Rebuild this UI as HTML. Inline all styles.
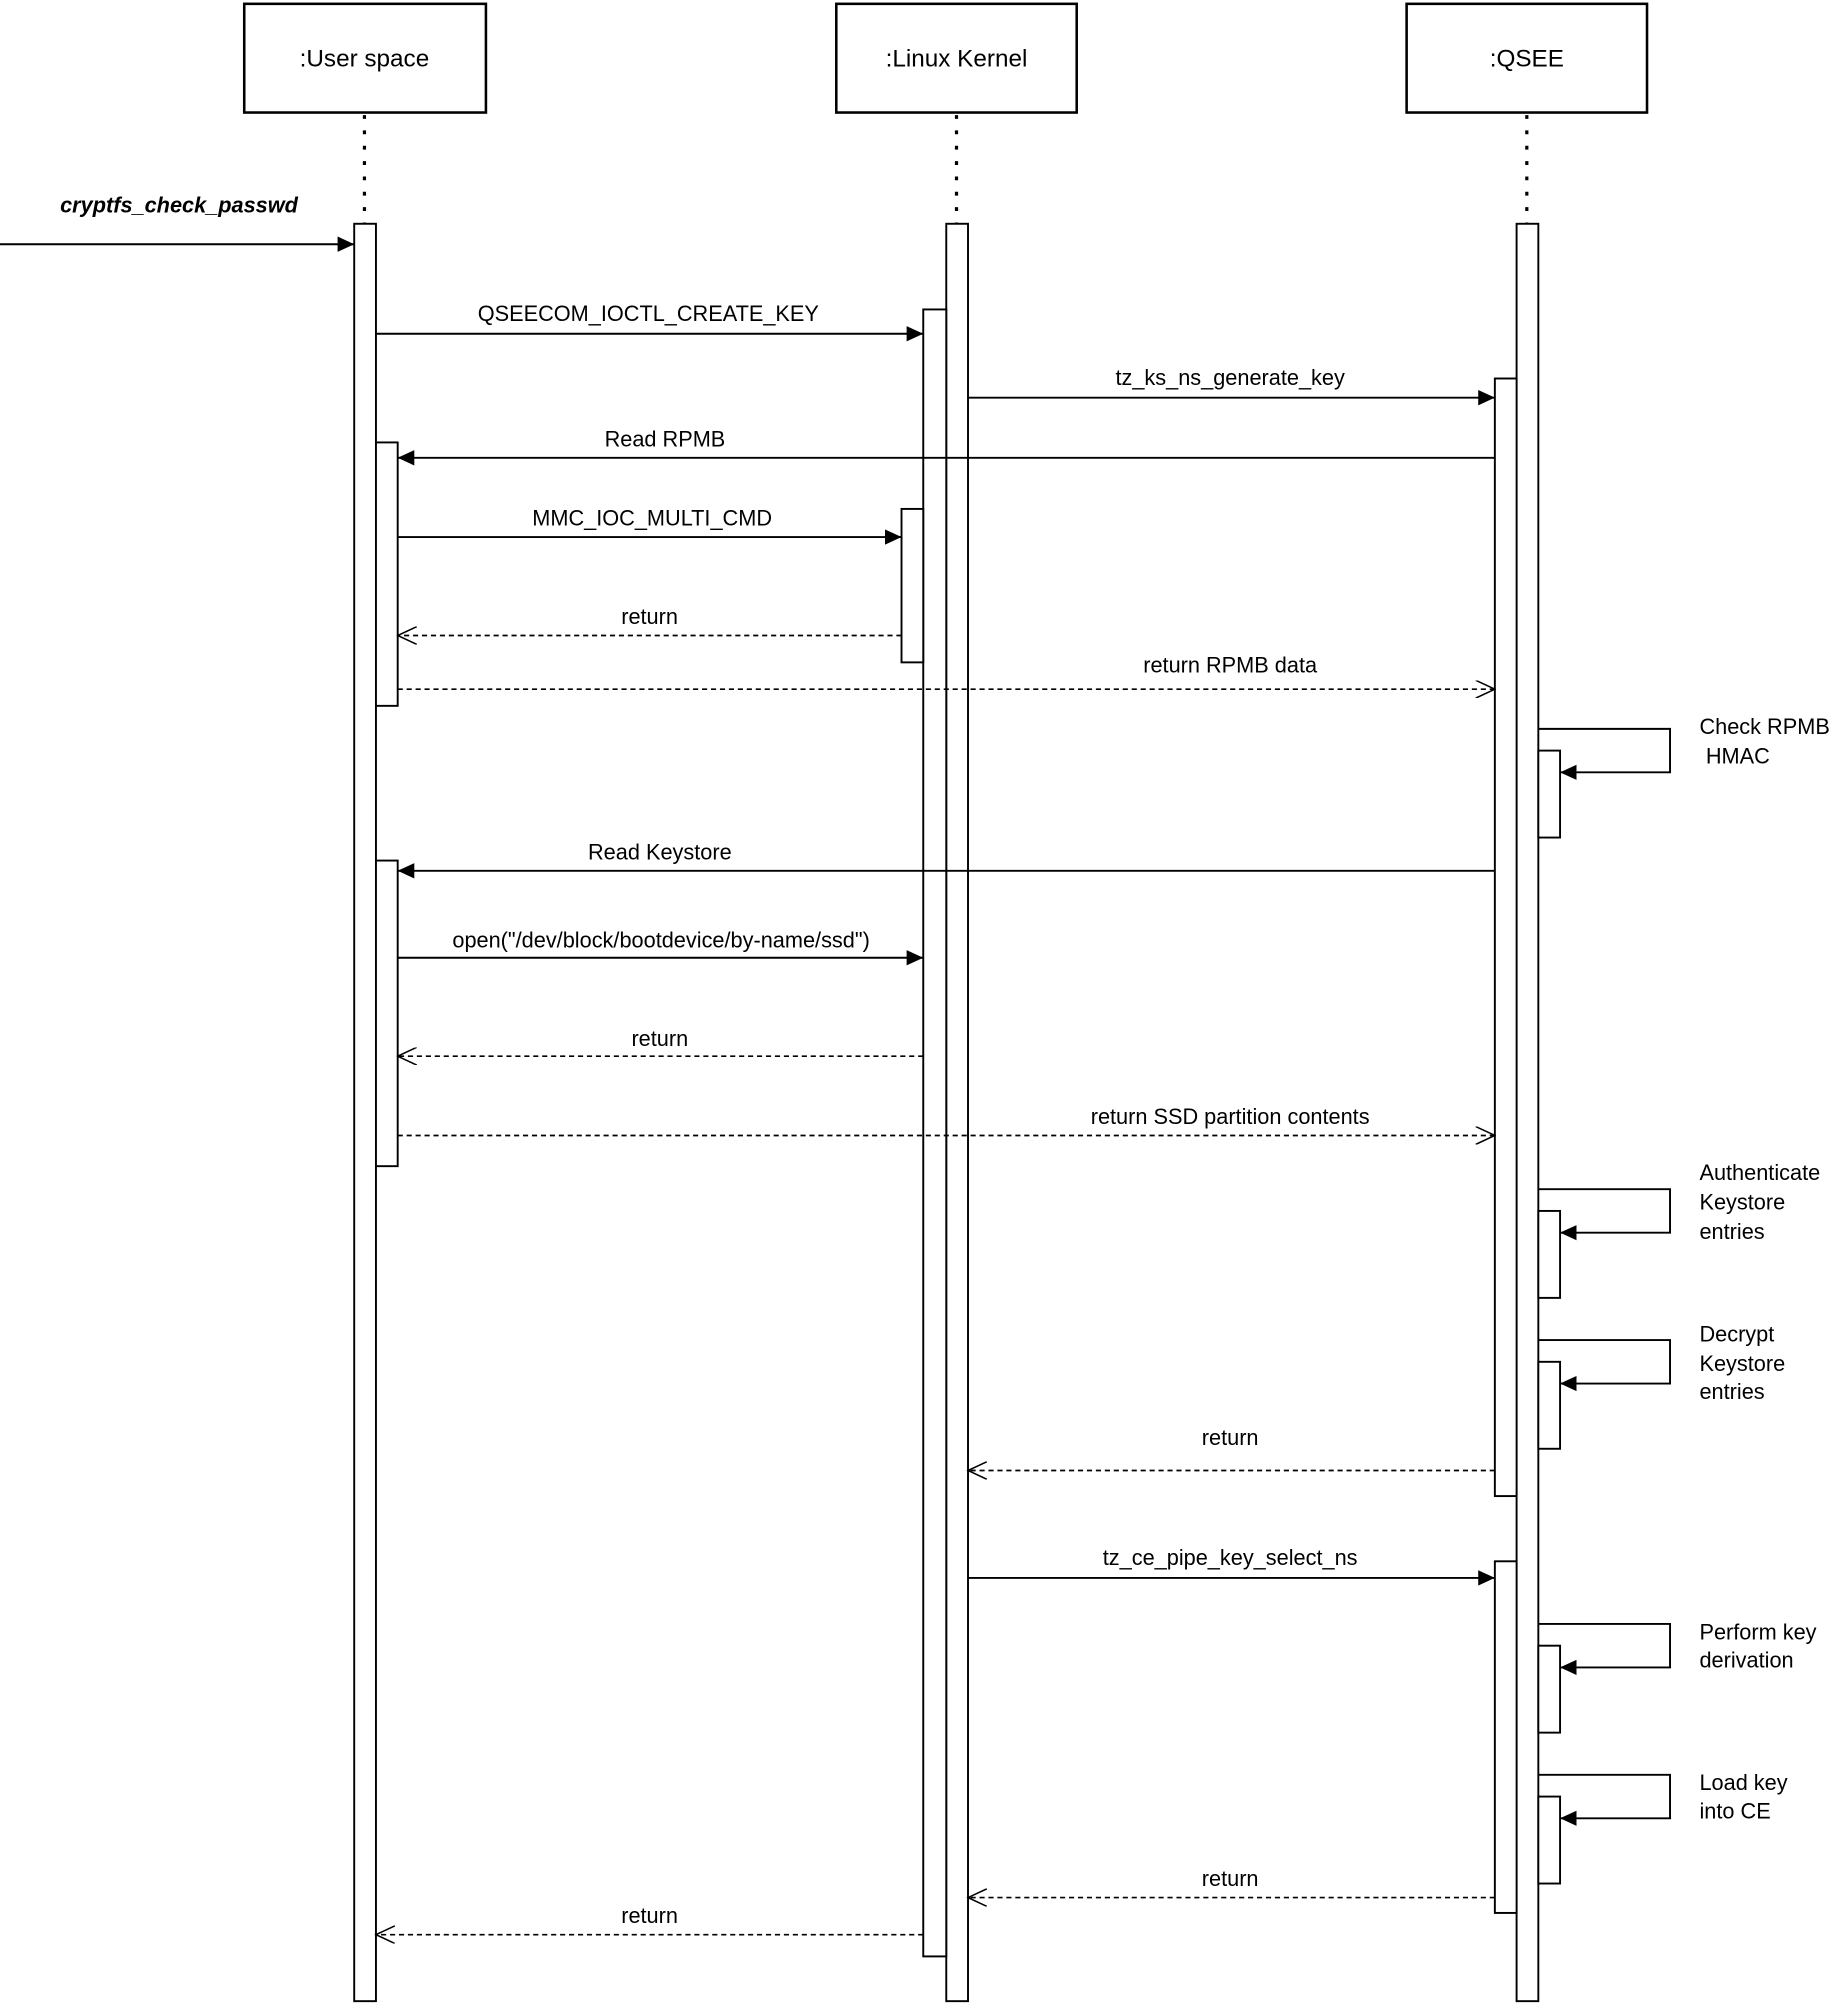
<!DOCTYPE html>
<html><head><meta charset="utf-8"><style>
html,body{margin:0;padding:0;background:#fff;}
svg{display:block;}
text{font-family:"Liberation Sans",sans-serif;font-size:17px;fill:#000;}
</style></head><body>
<svg width="1835" height="2005" viewBox="0 0 1435 1568" preserveAspectRatio="none" xmlns="http://www.w3.org/2000/svg">
<defs>
<marker id="f" markerWidth="14" markerHeight="12" refX="13" refY="6" orient="auto" markerUnits="userSpaceOnUse"><path d="M0,0 L13,6 L0,12 z" fill="#000"/></marker>
<marker id="o" markerWidth="16" markerHeight="14" refX="15" refY="7" orient="auto" markerUnits="userSpaceOnUse"><path d="M0,0 L15,7 L0,14" fill="none" stroke="#000" stroke-width="1.2"/></marker>
</defs>
<g fill="#fff" stroke="#000" stroke-width="2">
<rect x="191" y="3" width="189" height="85"/>
<rect x="654" y="3" width="188" height="85"/>
<rect x="1100" y="3" width="188" height="85"/>
</g>
<text x="285" y="52" text-anchor="middle" font-size="19" style="font-size:19px">:User space</text>
<text x="748" y="52" text-anchor="middle" style="font-size:19px">:Linux Kernel</text>
<text x="1194" y="52" text-anchor="middle" style="font-size:19px">:QSEE</text>
<g stroke="#000" stroke-width="2.5" stroke-dasharray="3,9">
<line x1="285" y1="90" x2="285" y2="175"/>
<line x1="748" y1="90" x2="748" y2="175"/>
<line x1="1194" y1="90" x2="1194" y2="175"/>
</g>
<g fill="#fff" stroke="#000" stroke-width="1.5">
<rect x="277" y="175" width="17" height="1390"/>
<rect x="740" y="175" width="17" height="1390"/>
<rect x="1186" y="175" width="17" height="1390"/>
<rect x="722" y="242" width="18" height="1288"/>
<rect x="1169" y="296" width="17" height="874"/>
<rect x="1169" y="1221" width="17" height="275"/>
<rect x="294" y="346" width="17" height="206"/>
<rect x="294" y="673" width="17" height="239"/>
<rect x="705" y="398" width="17" height="120"/>
<rect x="1203" y="587" width="17" height="68"/>
<rect x="1203" y="947" width="17" height="68"/>
<rect x="1203" y="1065" width="17" height="68"/>
<rect x="1203" y="1287" width="17" height="68"/>
<rect x="1203" y="1405" width="17" height="68"/>
</g>
<g stroke="#000" stroke-width="1.5" fill="none">
<line x1="0" y1="191" x2="277" y2="191" marker-end="url(#f)"/>
<line x1="294" y1="261" x2="722" y2="261" marker-end="url(#f)"/>
<line x1="757" y1="311" x2="1169" y2="311" marker-end="url(#f)"/>
<line x1="1169" y1="358" x2="311" y2="358" marker-end="url(#f)"/>
<line x1="311" y1="420" x2="705" y2="420" marker-end="url(#f)"/>
<line x1="1169" y1="681" x2="311" y2="681" marker-end="url(#f)"/>
<line x1="311" y1="749" x2="722" y2="749" marker-end="url(#f)"/>
<line x1="757" y1="1234" x2="1169" y2="1234" marker-end="url(#f)"/>
<path d="M1203,570 H1306 V604 H1220" marker-end="url(#f)"/>
<path d="M1203,930 H1306 V964 H1220" marker-end="url(#f)"/>
<path d="M1203,1048 H1306 V1082 H1220" marker-end="url(#f)"/>
<path d="M1203,1270 H1306 V1304 H1220" marker-end="url(#f)"/>
<path d="M1203,1388 H1306 V1422 H1220" marker-end="url(#f)"/>
</g>
<g stroke="#000" stroke-width="1.3" fill="none" stroke-dasharray="4,3">
<line x1="705" y1="497" x2="311" y2="497" marker-end="url(#o)"/>
<line x1="311" y1="539" x2="1169" y2="539" marker-end="url(#o)"/>
<line x1="722" y1="826" x2="311" y2="826" marker-end="url(#o)"/>
<line x1="311" y1="888" x2="1169" y2="888" marker-end="url(#o)"/>
<line x1="1169" y1="1150" x2="757" y2="1150" marker-end="url(#o)"/>
<line x1="1169" y1="1484" x2="757" y2="1484" marker-end="url(#o)"/>
<line x1="722" y1="1513" x2="294" y2="1513" marker-end="url(#o)"/>
</g>
<text x="140" y="166" text-anchor="middle" font-style="italic" font-weight="bold">cryptfs_check_passwd</text>
<g text-anchor="middle">
<text x="507" y="251">QSEECOM_IOCTL_CREATE_KEY</text>
<text x="962" y="301">tz_ks_ns_generate_key</text>
<text x="520" y="349">Read RPMB</text>
<text x="510" y="411">MMC_IOC_MULTI_CMD</text>
<text x="508" y="488">return</text>
<text x="962" y="526">return RPMB data</text>
<text x="516" y="672">Read Keystore</text>
<text x="517" y="741">open("/dev/block/bootdevice/by-name/ssd")</text>
<text x="516" y="818">return</text>
<text x="962" y="879">return SSD partition contents</text>
<text x="962" y="1130">return</text>
<text x="962" y="1224">tz_ce_pipe_key_select_ns</text>
<text x="962" y="1475">return</text>
<text x="508" y="1504">return</text>
</g>
<g>
<text x="1329" y="574">Check RPMB</text>
<text x="1334" y="597">HMAC</text>
<text x="1329" y="923">Authenticate</text>
<text x="1329" y="946">Keystore</text>
<text x="1329" y="969">entries</text>
<text x="1329" y="1049">Decrypt</text>
<text x="1329" y="1072">Keystore</text>
<text x="1329" y="1094">entries</text>
<text x="1329" y="1282">Perform key</text>
<text x="1329" y="1304">derivation</text>
<text x="1329" y="1400">Load key</text>
<text x="1329" y="1422">into CE</text>
</g>
</svg>
</body></html>
